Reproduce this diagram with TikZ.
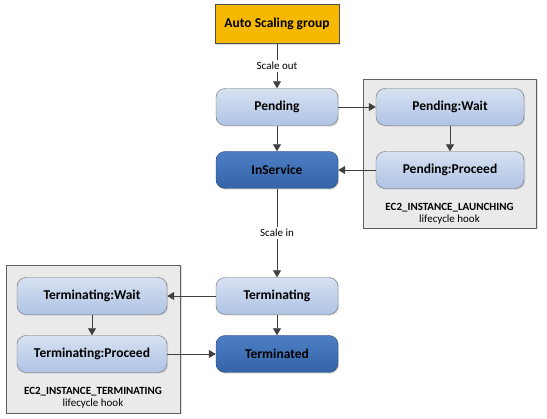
\documentclass[tikz,border=0pt]{standalone}
\usepackage{fontspec}
\setmainfont{Carlito}
\usetikzlibrary{arrows.meta,shadows}
\definecolor{groupfill}{HTML}{F7B900}
\definecolor{lightA}{HTML}{D7E1F1}
\definecolor{lightB}{HTML}{AFC3E5}
\definecolor{darkA}{HTML}{4D7EC4}
\definecolor{darkB}{HTML}{3563A8}
\definecolor{edgegray}{HTML}{404040}
\definecolor{boxgray}{HTML}{EAEAEA}

\begin{document}
\begin{tikzpicture}
  [x=1pt,y=-1pt,
   every node/.style={font=\bfseries\fontsize{13.5}{15}\selectfont,inner sep=0pt},
   state/.style={draw=gray!85!black,rounded corners=9pt,minimum width=122pt,
                 minimum height=37pt,top color=lightA,bottom color=lightB,
                 drop shadow={shadow xshift=1.2pt,shadow yshift=-1.2pt,opacity=0.25}},
   waitstate/.style={state,minimum width=148pt},
   donestate/.style={state,top color=darkA,bottom color=darkB,draw=darkB!70!black},
   hookbox/.style={draw=gray!75!black,fill=boxgray,
                   drop shadow={shadow xshift=1.5pt,shadow yshift=-1.5pt,opacity=0.25}},
   hooktext/.style={font=\fontsize{11}{13}\selectfont,align=center},
   flowlabel/.style={font=\fontsize{11}{13}\selectfont,fill=white,inner sep=2pt},
   flow/.style={draw=edgegray,thick,-{Triangle[length=7pt,width=8pt]}}]
\useasboundingbox (0,0) rectangle (547,419);

% lifecycle hook frames
\node [hookbox,minimum width=173pt,minimum height=149pt] (launchhook) at (449.5,153.5) {};
\node [hookbox,minimum width=174pt,minimum height=148pt] (termhook)   at (93,339) {};

\node [draw=gray!60!black,fill=groupfill,minimum width=124pt,minimum height=39pt,
       drop shadow={shadow xshift=1.2pt,shadow yshift=-1.2pt,opacity=0.25}]
                        (asg)        at (277,24)  {Auto Scaling group};
\node [state]           (pending)    at (277,107) {Pending};
\node [donestate]       (inservice)  at (277,170) {InService};
\node [waitstate]       (pendwait)   at (450,107) {Pending:Wait};
\node [waitstate]       (pendproc)   at (450,170) {Pending:Proceed};
\node [state]           (terminating) at (277,296) {Terminating};
\node [donestate]       (terminated) at (277,354) {Terminated};
\node [waitstate,minimum width=150pt] (termwait) at (92,296) {Terminating:Wait};
\node [waitstate,minimum width=150pt] (termproc) at (92,354) {Terminating:Proceed};

\node [hooktext] (launchname) at (449.5,214)
  {\textbf{EC2\_INSTANCE\_LAUNCHING}\\[-1pt]\mdseries lifecycle hook};
\node [hooktext] (termname) at (93,398)
  {\textbf{EC2\_INSTANCE\_TERMINATING}\\[-1pt]\mdseries lifecycle hook};

\draw [flow] (asg) -- node [flowlabel] {\mdseries Scale out} (pending) ;
\draw [flow] (pending) -- (inservice) ;
\draw [flow] (pending) -- (pendwait) ;
\draw [flow] (pendwait) -- (pendproc) ;
\draw [flow] (pendproc) -- (inservice) ;
\draw [flow] (inservice) -- node [flowlabel] {\mdseries Scale in} (terminating) ;
\draw [flow] (terminating) -- (terminated) ;
\draw [flow] (terminating) -- (termwait) ;
\draw [flow] (termwait) -- (termproc) ;
\draw [flow] (termproc) -- (terminated) ;
\end{tikzpicture}
\end{document}
